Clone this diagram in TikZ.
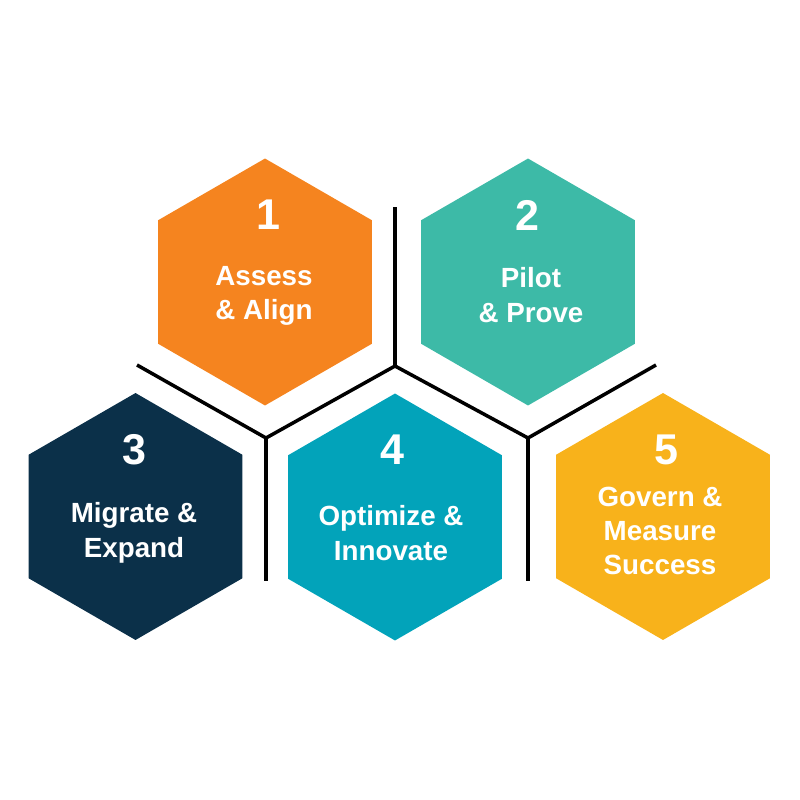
\documentclass[tikz,border=0pt]{standalone}
\usepackage{fontspec}
\setmainfont{Liberation Sans}
\usetikzlibrary{shapes.geometric}
\definecolor{assesscolor}{HTML}{F5841F}
\definecolor{pilotcolor}{HTML}{3DBAA7}
\definecolor{migratecolor}{HTML}{0B3049}
\definecolor{optimizecolor}{HTML}{02A3BA}
\definecolor{governcolor}{HTML}{F8B21B}

\begin{document}
\begin{tikzpicture}[x=0.02cm, y=-0.02cm, hexcell/.style={regular polygon, regular polygon sides=6, shape border rotate=30, minimum size=4.94cm, inner sep=0pt, draw=none}, stepnum/.style={text=white, font=\fontsize{24.5}{26}\selectfont\bfseries}, steplabel/.style={text=white, align=center, font=\fontsize{15.8}{19.6}\selectfont\bfseries}, divider/.style={line width=2pt, black}]

  \useasboundingbox (0,0) rectangle (800,800);

  \node[hexcell, fill=assesscolor] (assess) at (265,282) {};
  \node[hexcell, fill=pilotcolor] (pilot) at (528,282) {};
  \node[hexcell, fill=migratecolor] (migrate) at (135.5,516.5) {};
  \node[hexcell, fill=optimizecolor] (optimize) at (395,517) {};
  \node[hexcell, fill=governcolor] (govern) at (663,516.5) {};

  \node[stepnum] (assessnum) at (268,215) {1};
  \node[stepnum] (pilotnum) at (527,215) {2};
  \node[stepnum] (migratenum) at (134,450) {3};
  \node[stepnum] (optimizenum) at (392,450) {4};
  \node[stepnum] (governnum) at (666,450) {5};

  \node[steplabel] (assesstext) at (264,296) {Assess\\ \& Align};
  \node[steplabel] (pilottext) at (531,295) {Pilot\\ \& Prove};
  \node[steplabel] (migratetext) at (134,533) {Migrate \&\\ Expand};
  \node[steplabel] (optimizetext) at (391,533) {Optimize \&\\ Innovate};
  \node[steplabel] (governtext) at (660,531) {Govern \&\\ Measure\\ Success};

  % dividing lines
  \coordinate (leftend) at (137,365);
  \coordinate (lowjoin1) at (266,438);
  \coordinate (midjoin) at (395,366);
  \coordinate (midtop) at (395,207);
  \coordinate (lowjoin2) at (528,438);
  \coordinate (rightend) at (656,365);
  \coordinate (lowend1) at (266,581);
  \coordinate (lowend2) at (528,581);

  \draw[divider] (leftend) -- (lowjoin1) -- (midjoin) -- (lowjoin2) -- (rightend);
  \draw[divider] (midjoin) -- (midtop);
  \draw[divider] (lowjoin1) -- (lowend1);
  \draw[divider] (lowjoin2) -- (lowend2);
\end{tikzpicture}
\end{document}
